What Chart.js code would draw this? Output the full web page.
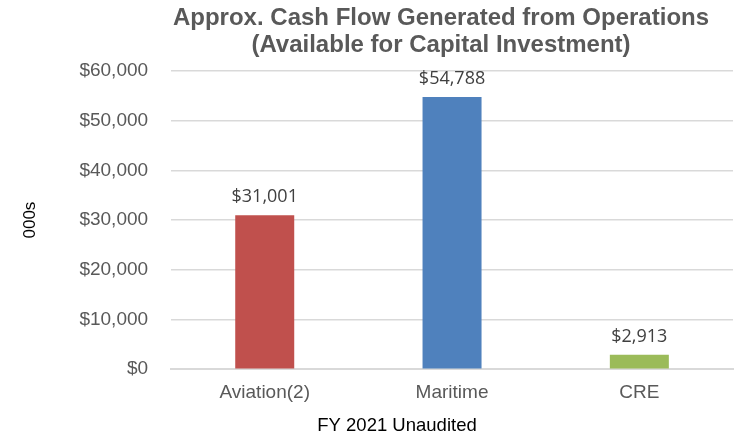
<!DOCTYPE html>
<html>
  <head>
    <style>
      body { margin: 0; background: #fff; }
      #chartContainer { width: 738px; height: 439px; }
    </style>
  </head>
  <body>
    <div id="chartContainer">
      <canvas id="myChart"></canvas>
    </div>
    <script src="https://cdn.jsdelivr.net/npm/chart.js"></script>
    <script>
      const segments = ['Aviation(2)', 'Maritime', 'CRE'];
      const cashFlow = [31001, 54788, 2913];
      const barColors = ['#c0504d', '#4f81bd', '#9bbb59'];
      const titleLines = ['Approx. Cash Flow Generated from Operations', '(Available for Capital Investment)'];

      const money = v => '$' + v.toLocaleString('en-US');

      // value labels above each bar, plus title and x caption (both sit off-centre in the original)
      const barLabels = {
        id: 'barLabels',
        afterDatasetsDraw(chart) {
          const c = chart.ctx;
          const meta = chart.getDatasetMeta(0);
          c.save();
          c.font = '18px "Open Sans"';
          c.fillStyle = '#404040';
          c.textAlign = 'center';
          c.textBaseline = 'bottom';
          meta.data.forEach((bar, i) => {
            c.fillText(money(cashFlow[i]), bar.x, bar.y - 9);
          });

          c.textBaseline = 'middle';
          c.font = 'bold 24px "Liberation Sans", Arial';
          c.fillStyle = '#595959';
          titleLines.forEach((t, i) => c.fillText(t, 441, 18 + i * 27));

          c.font = '18.5px "Liberation Sans", Arial';
          c.fillStyle = '#000';
          c.fillText('FY 2021 Unaudited', 397, chart.height - 13);
          c.restore();
        }
      };

      new Chart(document.getElementById('myChart'), {
        type: 'bar',
        data: {
          labels: segments,
          datasets: [{
            data: cashFlow,
            backgroundColor: barColors,
            barPercentage: 0.5,
            categoryPercentage: 0.63
          }]
        },
        plugins: [barLabels],
        options: {
          responsive: true,
          maintainAspectRatio: false,
          animation: false,
          layout: { padding: { left: 20, right: 5, top: 71, bottom: 23 } },
          plugins: {
            legend: { display: false },
            tooltip: { enabled: false },
            title: { display: false }
          },
          scales: {
            x: {
              grid: { display: false, drawTicks: false },
              border: { color: '#d9d9d9', width: 2 },
              ticks: {
                color: '#595959',
                font: { family: '"Liberation Sans", Arial', size: 19 },
                padding: 12
              }
            },
            y: {
              min: 0,
              max: 60000,
              grid: { color: '#d9d9d9', lineWidth: 1.5, drawTicks: false },
              border: { display: false },
              ticks: {
                stepSize: 10000,
                color: '#595959',
                font: { family: '"Liberation Sans", Arial', size: 19 },
                padding: 23,
                callback: v => money(v)
              },
              title: {
                display: true,
                text: '000s',
                color: '#000',
                font: { family: '"Liberation Sans", Arial', size: 17 },
                padding: { top: 0, bottom: 16 }
              }
            }
          }
        }
      });
    </script>
  </body>
</html>
